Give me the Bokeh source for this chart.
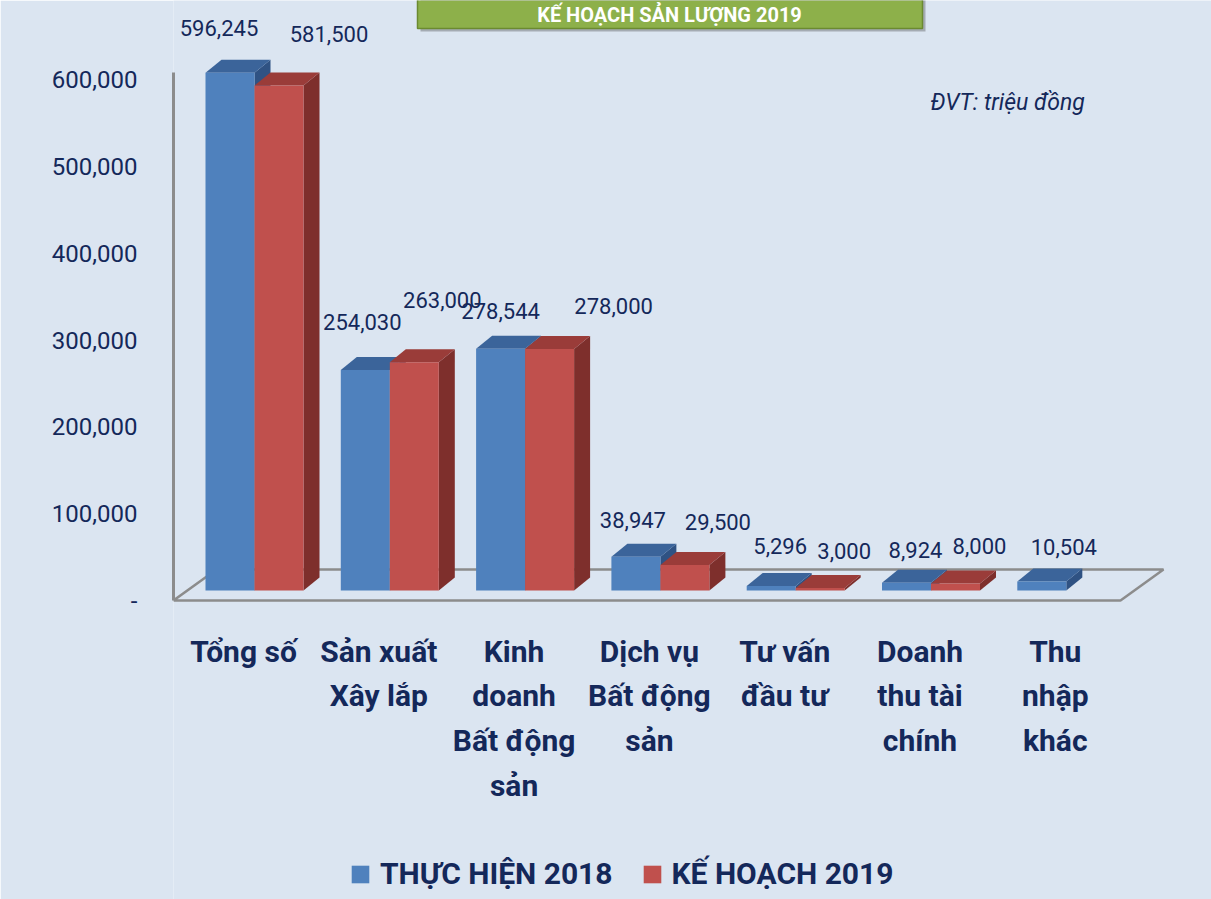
from bokeh.plotting import figure
from bokeh.models import (Range1d, FixedTicker, CustomJSTickFormatter, Legend,
                          LegendItem, ColumnDataSource)
from bokeh.core.properties import value
from bokeh.embed import file_html
from bokeh.resources import INLINE

# ---------------- data ----------------
categories = ["Tổng số", "Sản xuất\nXây lắp", "Kinh\ndoanh\nBất động\nsản",
              "Dịch vụ\nBất động\nsản", "Tư vấn\nđầu tư", "Doanh\nthu tài\nchính",
              "Thu\nnhập\nkhác"]
thuc_hien_2018 = [596245, 254030, 278544, 38947, 5296, 8924, 10504]
ke_hoach_2019 = [581500, 263000, 278000, 29500, 3000, 8000, None]
series_names = ["THỰC HIỆN 2018", "KẾ HOẠCH 2019"]
y_ticks = [0, 100000, 200000, 300000, 400000, 500000, 600000]
title_text = "KẾ HOẠCH SẢN LƯỢNG 2019"
unit_text = "ĐVT: triệu đồng"

# ---------------- styling / layout (pixels) ----------------
# data-label nudges (px) relative to the bar front centre / top face
label_dx_2018 = [-11, -3, 0, -3, 9, 9, 22]
label_dx_2019 = [50, 28, 64, 33, 24, 24, 0]
label_up_2018 = [32, 35, 25, 24, 27, 20, 21]
label_up_2019 = [39, 49, 30, 30, 24, 25, 0]

W, H = 1211, 899
FRAME_LEFT = 173
CAT_PX = 135.3
CAT0_PAGE_X = 254
ZERO_PAGE_Y = 600
K = 521 / 600000
BAR_W_PX = 49
DEPTH_DX, DEPTH_DY = 16, 13
BASE_PX = 10

BG = "#dbe5f1"
NAVY = "#14285a"
AXIS_GRAY = "#8c8c8c"
BLUE = ("#4f81bd", "#3b649a", "#2f5283")
RED = ("#c0504d", "#9a3c39", "#7e2f2c")
COND = "Roboto"


def px_x(px):
    return px / CAT_PX


def px_y(px):
    return px / K


def page_x(px):
    return (px - CAT0_PAGE_X) / CAT_PX


def page_y(py):
    return (ZERO_PAGE_Y - py) / K


p = figure(width=W, height=H, output_backend="svg", toolbar_location=None,
           x_range=Range1d(page_x(FRAME_LEFT), page_x(W)),
           y_range=Range1d(page_y(H), page_y(0)),
           x_axis_location=None, y_axis_location="left",
           min_border_left=FRAME_LEFT, min_border_right=0,
           min_border_top=0, min_border_bottom=0)
p.background_fill_color = BG
p.border_fill_color = BG
p.outline_line_color = None
p.grid.visible = False

# y axis
ax = p.yaxis[0]
ax.ticker = FixedTicker(ticks=y_ticks)
ax.formatter = CustomJSTickFormatter(
    code="return tick == 0 ? '-' : tick.toLocaleString('en-US');")
ax.bounds = (0, page_y(72))
ax.axis_line_color = AXIS_GRAY
ax.axis_line_width = 3
ax.major_tick_out = 0
ax.major_tick_in = 0
ax.minor_tick_out = 0
ax.minor_tick_in = 0
ax.major_label_standoff = 36
ax.major_label_text_font = "Roboto"
ax.major_label_text_font_size = "24px"
ax.major_label_text_color = NAVY

# floor
fl_back_y = page_y(569)
p.patch(x=[page_x(173), page_x(1120), page_x(1163), page_x(216)],
        y=[0, 0, fl_back_y, fl_back_y],
        fill_color=None, line_color=AXIS_GRAY, line_width=2.5)

# bars
n = len(categories)
base = px_y(BASE_PX)
bw = px_x(BAR_W_PX)
ddx, ddy = px_x(DEPTH_DX), px_y(DEPTH_DY)

renderers = []
lab_x, lab_y, lab_t, lab_up = [], [], [], []
series = [(thuc_hien_2018, BLUE, label_dx_2018, label_up_2018),
          (ke_hoach_2019, RED, label_dx_2019, label_up_2019)]
for s, (vals, cols, ldx, lup) in enumerate(series):
    lefts, rights, tops, bots = [], [], [], []
    txs, tys, sxs, sys_ = [], [], [], []
    for i, v in enumerate(vals):
        if v is None:
            continue
        l = i - bw if s == 0 else i
        r = l + bw
        t = base + v
        lefts.append(l); rights.append(r); tops.append(t); bots.append(base)
        txs.append([l, l + ddx, r + ddx, r]); tys.append([t, t + ddy, t + ddy, t])
        sxs.append([r, r + ddx, r + ddx, r]); sys_.append([base, base + ddy, t + ddy, t])
        lab_x.append((l + r) / 2 + px_x(ldx[i]))
        lab_y.append(t + ddy)
        lab_up.append(-lup[i])
        lab_t.append(f"{v:,}")
    p.patches(xs=sxs, ys=sys_, fill_color=cols[2], line_color=None)
    p.patches(xs=txs, ys=tys, fill_color=cols[1], line_color=None)
    src = ColumnDataSource(dict(left=lefts, right=rights, top=tops, bottom=bots))
    rr = p.quad(left="left", right="right", top="top", bottom="bottom", source=src,
                fill_color=cols[0], line_color=None)
    renderers.append(rr)

# value labels
lsrc = ColumnDataSource(dict(x=lab_x, y=lab_y, text=lab_t, yo=lab_up))
p.text(x="x", y="y", text="text", y_offset="yo", source=lsrc, text_align="center",
       text_baseline="middle", text_font=value("Roboto"),
       text_font_size="22px", text_color=NAVY)

# category labels
p.text(x=list(range(n)), y=[page_y(633)] * n, text=categories, x_offset=-11,
       text_align="center", text_baseline="top", text_font=value(COND),
       text_font_style="bold", text_font_size="30px", text_line_height=1.28,
       text_color=NAVY)

# unit note
p.text(x=[page_x(930)], y=[page_y(102)], text=[unit_text], text_align="left",
       text_baseline="middle", text_font=value("Roboto"),
       text_font_style="italic", text_font_size="23px", text_color=NAVY)

# title box
p.quad(left=[page_x(420)], right=[page_x(925)], top=[page_y(-20)], bottom=[page_y(31)],
       fill_color="#404040", fill_alpha=0.35, line_color=None)
p.quad(left=[page_x(417)], right=[page_x(922)], top=[page_y(-20)], bottom=[page_y(28)],
       fill_color="#8db04a", line_color="#6b8a30", line_width=1.5)
p.text(x=[page_x(669)], y=[page_y(14)], text=[title_text], text_align="center",
       text_baseline="middle", text_font=value("Roboto"),
       text_font_style="bold", text_font_size="20px", text_color="white")

# legend
legend = Legend(items=[LegendItem(label=series_names[0], renderers=[renderers[0]]),
                       LegendItem(label=series_names[1], renderers=[renderers[1]])],
                orientation="horizontal", location=(176, 8),
                background_fill_alpha=0, border_line_alpha=0,
                glyph_width=22, glyph_height=22, label_standoff=9, spacing=28,
                padding=0, margin=0, label_text_font=COND,
                label_text_font_style="bold", label_text_font_size="30px",
                label_text_color=NAVY)
p.add_layout(legend)

open("out.html", "w").write(file_html(p, INLINE))
